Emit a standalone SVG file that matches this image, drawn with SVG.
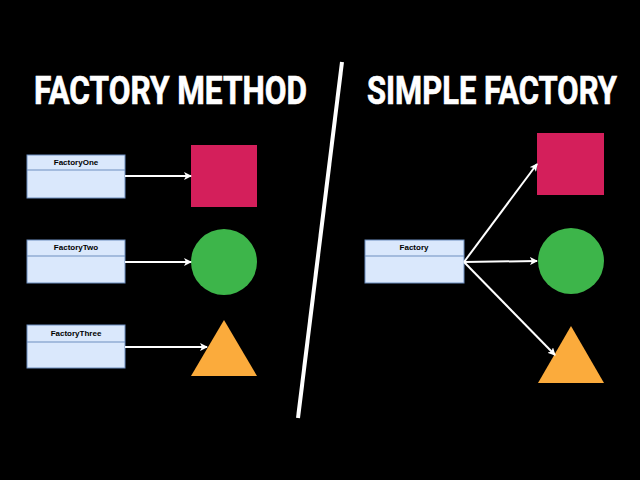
<svg xmlns="http://www.w3.org/2000/svg" width="640" height="480" viewBox="0 0 640 480">
<defs>
<style>
.title{font-family:Roboto,"Liberation Sans",sans-serif;font-weight:700;font-size:34px;fill:#fff}
.cls{fill:#dae8fc;stroke:#6c8ebf;stroke-width:1}
.lbl{font-family:"Liberation Sans",Arial,sans-serif;font-weight:700;font-size:8px;fill:#000;text-anchor:middle}
.conn{stroke:#fff;stroke-width:2;fill:none;marker-end:url(#ah)}
</style>
<marker id="ah" markerWidth="8" markerHeight="8" refX="7" refY="4" orient="auto" markerUnits="userSpaceOnUse">
<path d="M0,0 L8,4 L0,8 L2,4 Z" fill="#fff"/>
</marker>
</defs>
<rect width="640" height="480" fill="#000"/>
<g transform="translate(0,104) scale(1,1.13)">
<text class="title" x="34" y="0" textLength="273" lengthAdjust="spacingAndGlyphs" stroke="#fff" stroke-width="0.6">FACTORY METHOD</text>
<text class="title" x="367" y="0" textLength="250" lengthAdjust="spacingAndGlyphs" stroke="#fff" stroke-width="0.6">SIMPLE FACTORY</text>
</g>
<line x1="342" y1="62" x2="298" y2="418" stroke="#fff" stroke-width="4"/>
<g id="factoryOne">
<rect class="cls" x="27" y="155" width="98" height="43"/>
<line x1="27" y1="170" x2="125" y2="170" stroke="#6c8ebf"/>
<text class="lbl" x="76" y="165">FactoryOne</text>
</g>
<g id="factoryTwo">
<rect class="cls" x="27" y="240" width="98" height="43"/>
<line x1="27" y1="256" x2="125" y2="256" stroke="#6c8ebf"/>
<text class="lbl" x="76" y="250">FactoryTwo</text>
</g>
<g id="factoryThree">
<rect class="cls" x="27" y="325" width="98" height="43"/>
<line x1="27" y1="342" x2="125" y2="342" stroke="#6c8ebf"/>
<text class="lbl" x="76" y="336">FactoryThree</text>
</g>
<g id="square1"><rect x="191" y="145" width="66" height="62" fill="#d41f5b"/></g>
<g id="circle1"><circle cx="224" cy="262" r="33" fill="#3db54a"/></g>
<g id="triangle1"><polygon points="224,320 257,376 191,376" fill="#fbab3c"/></g>
<g id="factory">
<rect class="cls" x="365" y="240" width="99" height="43"/>
<line x1="365" y1="256" x2="464" y2="256" stroke="#6c8ebf"/>
<text class="lbl" x="414" y="250">Factory</text>
</g>
<g id="square2"><rect x="537" y="133" width="67" height="62" fill="#d41f5b"/></g>
<g id="circle2"><circle cx="571" cy="261" r="33" fill="#3db54a"/></g>
<g id="triangle2"><polygon points="571,326 604,383 538,383" fill="#fbab3c"/></g>
<g id="connectors">
<line class="conn" x1="125" y1="176" x2="191" y2="176"/>
<line class="conn" x1="125" y1="262" x2="191" y2="262"/>
<line class="conn" x1="125" y1="347" x2="207" y2="347"/>
<line class="conn" x1="464" y1="262" x2="537" y2="164"/>
<line class="conn" x1="464" y1="262" x2="537" y2="261"/>
<line class="conn" x1="464" y1="262" x2="555" y2="355"/>
</g>
</svg>
